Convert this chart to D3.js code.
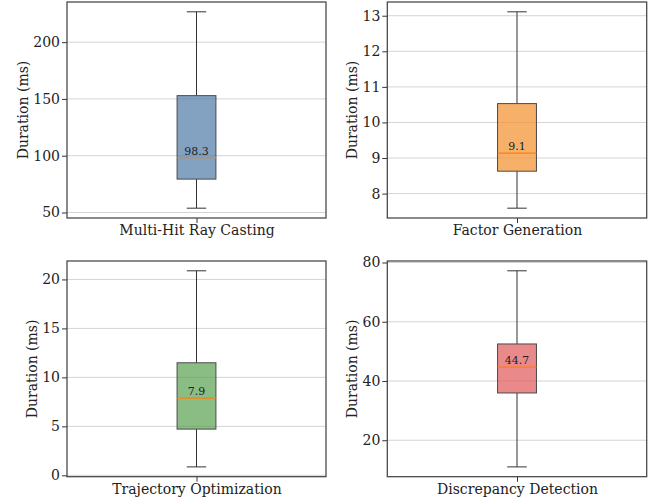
<!DOCTYPE html>
<html>
<head>
<meta charset="utf-8">
<script src="https://cdn.jsdelivr.net/npm/d3@7"></script>
<style>
  body { margin: 0; background: #fff; }
  svg { display: block; font-family: "DejaVu Serif", serif; }
</style>
</head>
<body>
<svg width="655" height="502"></svg>
<script>
// values
var tasks = ["Multi-Hit Ray Casting", "Factor Generation", "Trajectory Optimization", "Discrepancy Detection"]
var whiskerLow = [53.8, 7.59, 0.86, 11.0]
var q1 = [79.4, 8.63, 4.72, 35.96]
var medians = [98.3, 9.14, 7.89, 44.7]
var q3 = [152.9, 10.53, 11.49, 52.5]
var whiskerHigh = [226.7, 13.11, 20.88, 77.2]
var yTicks = [[50, 100, 150, 200], [8, 9, 10, 11, 12, 13], [0, 5, 10, 15, 20], [20, 40, 60, 80]]
var colors = ["#4E79A7", "#F28E2B", "#59A14F", "#E15759"]

var svg = d3.select("svg")
var lefts = [67, 387.3], rights = [326, 646.7]
var tops = [2, 261], bottoms = [218, 476.7]

tasks.forEach(function(task, i) {
    var col = i % 2, row = Math.floor(i / 2)
    var x0 = lefts[col], x1 = rights[col], y0 = tops[row], y1 = bottoms[row]

    var lo = whiskerLow[i], hi = whiskerHigh[i]
    var pad = (hi - lo) * 0.05
    var y = d3.scaleLinear().domain([lo - pad, hi + pad]).range([y1, y0])
    var x = d3.scaleLinear().domain([0.5, 1.5]).range([x0, x1])

    var g = svg.append("g")

    // grid
    g.selectAll(".grid").data(yTicks[i]).enter().append("line")
        .attr("x1", x0).attr("x2", x1)
        .attr("y1", function(d) { return y(d) }).attr("y2", function(d) { return y(d) })
        .attr("stroke", "#d4d4d4").attr("stroke-width", 1)

    // whiskers
    var cx = x(1)
    g.append("line").attr("x1", cx).attr("x2", cx).attr("y1", y(q3[i])).attr("y2", y(hi))
        .attr("stroke", "#333").attr("stroke-width", 1)
    g.append("line").attr("x1", cx).attr("x2", cx).attr("y1", y(q1[i])).attr("y2", y(lo))
        .attr("stroke", "#333").attr("stroke-width", 1)
    ;[lo, hi].forEach(function(v) {
        g.append("line").attr("x1", x(0.9625)).attr("x2", x(1.0375))
            .attr("y1", y(v)).attr("y2", y(v))
            .attr("stroke", "#333").attr("stroke-width", 1)
    })

    // box
    g.append("rect")
        .attr("x", x(0.925)).attr("width", x(1.075) - x(0.925))
        .attr("y", y(q3[i])).attr("height", y(q1[i]) - y(q3[i]))
        .attr("fill", colors[i]).attr("fill-opacity", 0.7)
        .attr("stroke", "#4a4a4a").attr("stroke-width", 1)

    // median
    g.append("line").attr("x1", x(0.925)).attr("x2", x(1.075))
        .attr("y1", y(medians[i])).attr("y2", y(medians[i]))
        .attr("stroke", "#ff7f0e").attr("stroke-width", 1.2)
    g.append("text").attr("x", cx).attr("y", y(medians[i]) - 3)
        .attr("text-anchor", "middle").attr("font-size", 11).attr("fill", "#222")
        .text(d3.format(".1f")(medians[i]))

    // axes
    var ya = g.append("g").attr("transform", "translate(" + x0 + ",0)")
        .call(d3.axisLeft(y).tickValues(yTicks[i]).tickSize(5).tickPadding(2).tickFormat(d3.format("d")))
    ya.select(".domain").remove()
    ya.selectAll("line").attr("stroke", "#333")
    ya.selectAll("text").attr("font-size", 14).attr("fill", "#222").attr("font-family", "DejaVu Serif")

    var xa = g.append("g").attr("transform", "translate(0," + y1 + ")")
        .call(d3.axisBottom(x).tickValues([1]).tickSize(5).tickPadding(2).tickFormat(function() { return task }))
    xa.select(".domain").remove()
    xa.selectAll("line").attr("stroke", "#333")
    xa.selectAll("text").attr("font-size", 14).attr("fill", "#222").attr("font-family", "DejaVu Serif")

    // frame
    g.append("rect").attr("x", x0).attr("y", y0).attr("width", x1 - x0).attr("height", y1 - y0)
        .attr("fill", "none").attr("stroke", "#444").attr("stroke-width", 1.25)

    // y label, placed left of widest tick label
    var minLeft = d3.min(ya.selectAll("text").nodes(), function(n) {
        var b = n.getBBox(); return x0 - 7 - b.width
    })
    var lx = minLeft - 5
    g.append("text")
        .attr("transform", "translate(" + lx + "," + ((y0 + y1) / 2) + ") rotate(-90)")
        .attr("text-anchor", "middle").attr("font-size", 14).attr("fill", "#222")
        .text("Duration (ms)")
})
</script>
</body>
</html>
